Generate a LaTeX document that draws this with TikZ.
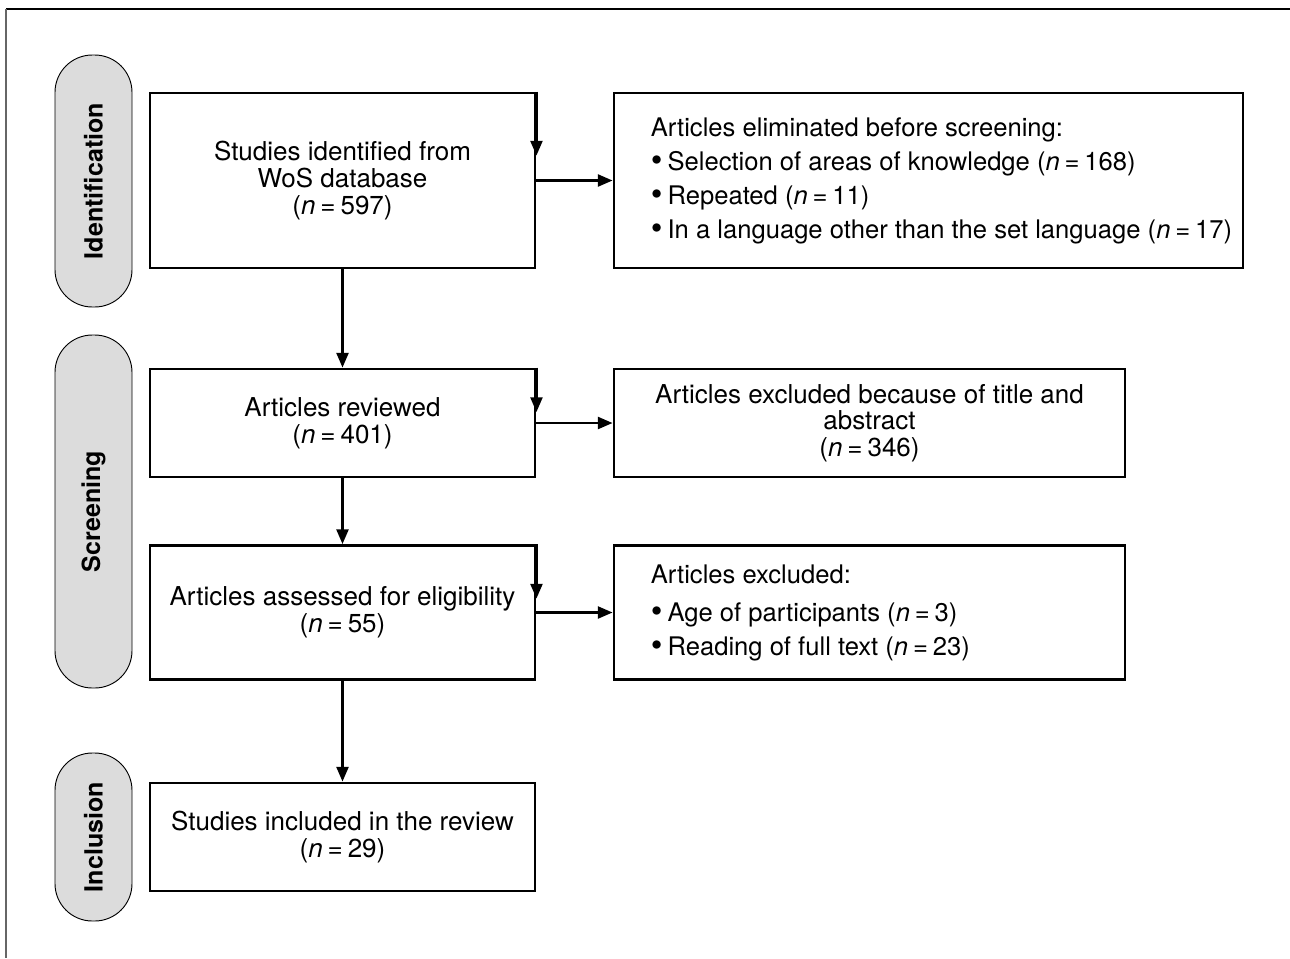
\documentclass[tikz,border=0pt]{standalone}
\usepackage{fontspec}
\setmainfont{TeX Gyre Heros}
\usepackage{xcolor}
\definecolor{pillGray}{HTML}{DCDCDC}
\usepackage{tikz}
\usetikzlibrary{positioning,arrows.meta,calc}

\newcommand{\nn}[1]{(\textit{n}\hspace{0.19em}=\hspace{0.19em}#1)}
\newcommand{\blt}{\raisebox{-1.3pt}{\fontsize{25}{20}\selectfont•}\hspace{0.2em}}

\begin{document}
\begin{tikzpicture}[x=0.75pt, y=-0.75pt,
  font=\fontsize{19.5}{20}\selectfont,
  box/.style={draw=black, line width=2.2pt, minimum width=288.75pt, align=center, inner sep=0pt},
  side/.style={draw=black, line width=2.2pt, inner sep=0pt},
  list/.style={anchor=west, align=left, inner sep=0pt, font=\fontsize{19.2}{25.5}\selectfont},
  pill/.style={draw=black, line width=0.7pt, fill=pillGray, rotate=90, rounded corners=28pt,
    minimum height=57.75pt, font=\fontsize{18.8}{20}\selectfont\bfseries},
  arr/.style={-{Triangle[length=11pt, width=9pt]}, line width=1.7pt}]
\useasboundingbox (0,0) rectangle (1290,958);
% frame
\draw[line width=0.9pt] (6,9) -- (1290,9);
\draw[line width=0.9pt, black!60] (6,9) -- (6,958);
% stage pills
\node[pill, minimum width=189pt] (pid) at (93.5,181) {Identification};
\node[pill, minimum width=264.75pt] (psc) at (93.5,511.5) {Screening};
\node[pill, minimum width=126pt] (pin) at (93.5,837) {Inclusion};
% main column
\node[box, minimum height=131.25pt] (b1) at (342.5,180.5) {Studies identified from\\WoS database\\\nn{597}};
\node[box, minimum height=81pt] (b2) at (342.5,423) {Articles reviewed\\\nn{401}};
\node[box, minimum height=100.5pt] (b3) at (342.5,612.5) {Articles assessed for eligibility\\\nn{55}};
\node[box, minimum height=81pt] (b4) at (342.5,837) {Studies included in the review\\\nn{29}};
% side boxes
\node[side, minimum width=471.75pt, minimum height=131.25pt] (s1) at (928.5,180.5) {};
\node[list] (s1t) at ([xshift=28.5pt]s1.west)
  {Articles eliminated before screening:\\
   \blt Selection of areas of knowledge \nn{168}\\
   \blt Repeated \nn{11}\\
   \blt In a language other than the set language \nn{17}};
\node[side, minimum width=383.25pt, minimum height=81pt, align=center] (s2) at (869.5,423)
  {Articles excluded because of title and\\abstract\\\nn{346}};
\node[side, minimum width=383.25pt, minimum height=100.5pt] (s3) at (869.5,612.5) {};
\node[list] (s3t) at ([xshift=28.5pt]s3.west)
  {Articles excluded:\\[3pt]
   \blt Age of participants \nn{3}\\
   \blt Reading of full text \nn{23}};
% flow
\draw[arr] (b1) -- (b2);
\draw[arr] (b2) -- (b3);
\draw[arr] (b3) -- (b4);
\draw[arr] (b1.east) -- (s1.west);
\draw[arr] (b2.east) -- (s2.west);
\draw[arr] (b3.east) -- (s3.west);
% edge arrows
\draw[arr] (b1.north east) -- ([yshift=18.75pt]b1.east);
\draw[arr] (b2.north east) -- ([yshift=8.25pt]b2.east);
\draw[arr] (b3.north east) -- ([yshift=10.5pt]b3.east);
\end{tikzpicture}
\end{document}
